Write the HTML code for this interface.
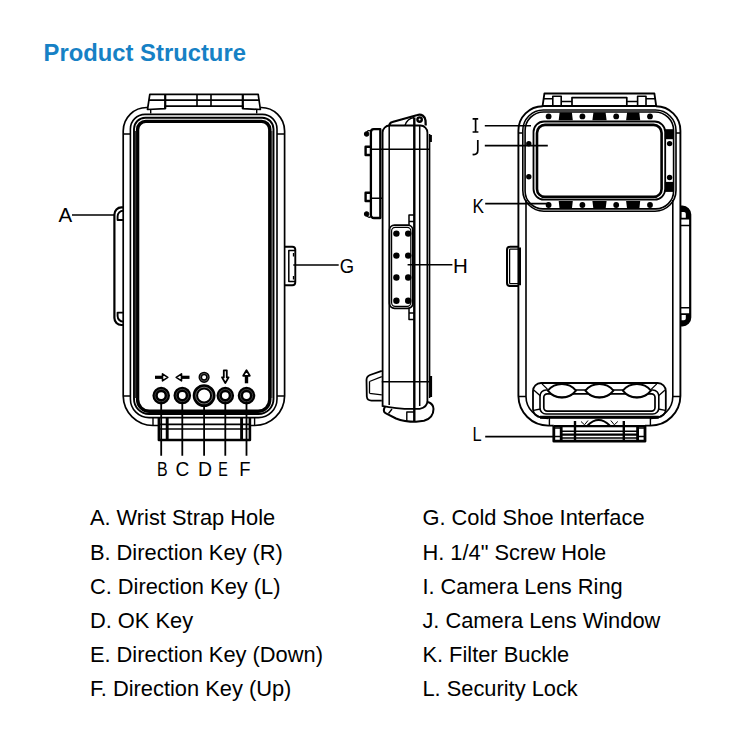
<!DOCTYPE html>
<html><head><meta charset="utf-8">
<style>
html,body{margin:0;padding:0;background:#fff;width:750px;height:750px;overflow:hidden}
svg{position:absolute;left:0;top:0;display:block}
</style></head>
<body>
<svg width="750" height="750" viewBox="0 0 750 750">
<rect width="750" height="750" fill="#fff"/>
<!-- Title -->
<text x="43.6" y="61" font-family="Liberation Sans" font-weight="bold" font-size="23.8" fill="#1681c5">Product Structure</text>

<!-- ===== LEFT DEVICE (front) ===== -->
<g fill="none" stroke="#000" stroke-linejoin="round">
  <!-- top clip -->
  <path d="M149.8,94.3 L258.2,94.3 L260.4,109.5 L242.8,108.7 L242.8,106.2 L165.2,106.2 L165.2,108.7 L147.5,109.5 Z" stroke-width="1.7"/>
  <path d="M149,100.1 H259.2 M197,94.3 V106.2 M211,94.3 V106.2" stroke-width="1.6"/>
  <path d="M165.2,94.3 V108.7 M242.8,94.3 V108.7" stroke-width="2.2"/>
  <path d="M150.7,109.5 V113.5 M256.7,109.5 V113.5" stroke-width="1.4"/>
  <!-- outer body frame -->
  <path d="M147.5,107.5 A23.5,23.5 0 0 0 123.2,131 L123.2,396 A30,30 0 0 0 153,425.5 L158,425.5 M250.8,425.5 L254.6,425.5 A30,30 0 0 0 284.6,396 L284.6,131 A23.5,23.5 0 0 0 260.4,107.5" stroke-width="1.7"/>
  <path d="M123.2,134 H130.8 M277,134 H284.6 M123.2,396 H130.8 M277,396 H284.6" stroke-width="1.5"/>
  <path d="M153,418 V425.7 M254.6,418 V425.7" stroke-width="1.4"/>
  <!-- band -->
  <path d="M130.4,129 A14.6,14.6 0 0 1 145,114.4 L262.4,114.4 A14.6,14.6 0 0 1 277,129 L277,399 A18.6,18.6 0 0 1 258.4,417.6 L149,417.6 A18.6,18.6 0 0 1 130.4,399 Z" stroke-width="1.6"/>
  <!-- thin -->
  <path d="M134,129 A11.3,11.3 0 0 1 145.3,117.7 L262.2,117.7 A11.3,11.3 0 0 1 273.5,129 L273.5,399 A15,15 0 0 1 258.5,414 L149,414 A15,15 0 0 1 134,399 Z" stroke-width="1.9"/>
  <!-- thick -->
  <path d="M137.6,129.6 A8.2,8.2 0 0 1 145.8,121.4 L261.6,121.4 A8.2,8.2 0 0 1 269.8,129.6 L269.8,399.6 A11.7,11.7 0 0 1 258.1,411.3 L149.3,411.3 A11.7,11.7 0 0 1 137.6,399.6 Z" stroke-width="3.4"/>
  <path d="M135.6,131 V398 M271.8,131 V398" stroke-width="1.3" stroke="#333"/>
  <!-- wrist strap A -->
  <path d="M123.2,207.4 L121.4,207.4 A7,7 0 0 0 114.4,214.4 L114.4,318 A7,7 0 0 0 121.4,325 L123.2,325" stroke-width="2.2"/>
  <path d="M123.2,210.8 A5.6,5.6 0 0 0 117.6,216.4 L117.6,220 L123.2,220" stroke-width="1.9"/>
  <path d="M123.2,321.6 A5.6,5.6 0 0 1 117.6,316 L117.6,312.6 L123.2,312.6" stroke-width="1.9"/>
  <!-- cold shoe G -->
  <path d="M284.6,246.7 L292.3,246.7 A3,3 0 0 1 295.3,249.7 L295.3,282.3 A3,3 0 0 1 292.3,285.3 L284.6,285.3" stroke-width="1.9"/>
  <path d="M295,250.5 L288.8,250.5 L288.8,281.5 L295,281.5" stroke-width="1.5"/>
  <path d="M293.5,253 V256.5 M293.5,276 V279.5" stroke-width="1.3"/>
  <!-- bottom clip -->
  <path d="M158.9,418 V440 H249.9 V418" stroke-width="2.6"/>
  <path d="M167.2,418 V440 M241.6,418 V440" stroke-width="2.9"/>
  <path d="M158.9,424.4 H249.9 M158.9,429 H249.9" stroke-width="1.6"/>
  <!-- buttons -->
  <g stroke-width="5.4">
    <circle cx="161.2" cy="395.6" r="6.1"/>
    <circle cx="182.3" cy="395.5" r="6.1"/>
    <circle cx="225.3" cy="395.6" r="6.1"/>
    <circle cx="246.5" cy="395.6" r="6.1"/>
    <circle cx="204.1" cy="395.6" r="8.7"/>
  </g>
  <g stroke="#fff" stroke-width="0.7" opacity="0.35">
    <circle cx="161.2" cy="395.6" r="6.2"/>
    <circle cx="182.3" cy="395.5" r="6.2"/>
    <circle cx="225.3" cy="395.6" r="6.2"/>
    <circle cx="246.5" cy="395.6" r="6.2"/>
  </g>
  <circle cx="204.1" cy="395.6" r="8.4" stroke="#fff" stroke-width="0.8" opacity="0.55"/>
  <!-- button lines -->
  <path d="M161.2,401.8 V455.8 M182.3,401.8 V455.8 M204.1,404.5 V455.8 M225.3,401.8 V455.8 M246.5,401.8 V455.8" stroke-width="1.8"/>
  <!-- icons -->
  <circle cx="204.1" cy="377.3" r="3.8" stroke-width="3.6"/>
  <circle cx="204.1" cy="377.3" r="3.9" stroke="#fff" stroke-width="0.6" opacity="0.5"/>
  <path d="M155,377.3 H162.5" stroke-width="3.2"/>
  <path d="M162.5,373.8 L167.8,377.3 L162.5,380.8 Z" stroke-width="1.6"/>
  <path d="M189.5,377.3 H181.5" stroke-width="3.2"/>
  <path d="M181.5,373.8 L176.2,377.3 L181.5,380.8 Z" stroke-width="1.6"/>
  <path d="M223.8,370.3 H226.8 V377.4 H228.6 L225.3,383 L222,377.4 H223.8 Z" stroke-width="1.8"/>
  <path d="M246.5,375.8 V383.3" stroke-width="3.4"/>
  <path d="M243.2,375.8 L246.5,370.2 L249.8,375.8 Z" stroke-width="1.8"/>
</g>
<g font-family="Liberation Sans" font-size="20.5" fill="#000">
  <text x="58.5" y="222.4">A</text>
  <text transform="translate(339.8,272.8) scale(0.9,1)">G</text>
</g>
<path d="M72,215 H114.4 M293.3,265 H338.7" stroke="#000" stroke-width="1.6"/>
<g font-family="Liberation Sans" font-size="20.5" fill="#000">
  <text transform="translate(157,476) scale(0.78,1)">B</text>
  <text transform="translate(175.6,476) scale(0.93,1)">C</text>
  <text transform="translate(198,476) scale(0.95,1)">D</text>
  <text transform="translate(218.2,476) scale(0.7,1)">E</text>
  <text transform="translate(239.3,476) scale(0.9,1)">F</text>
</g>

<!-- ===== SIDE VIEW ===== -->
<g fill="none" stroke="#000" stroke-linejoin="round">
  <!-- back plate -->
  <path d="M380.3,129.2 L373.8,129.2 A3,3 0 0 0 370.9,132.2 L370.9,215 A3,3 0 0 0 373.9,218 L380.3,218 Z" stroke-width="2.3"/>
  <path d="M370.7,149.3 H430 M370.7,198.3 H382" stroke-width="1.5"/>
  <!-- knobs -->
  <circle cx="366.6" cy="134" r="2.3" fill="#000" stroke-width="1"/>
  <path d="M367,132 A2.5,2.5 0 0 1 370.7,131" stroke-width="1.3"/>
  <circle cx="366.6" cy="214" r="2.3" fill="#000" stroke-width="1"/>
  <path d="M367,215.8 A2.5,2.5 0 0 0 370.7,216.8" stroke-width="1.3"/>
  <path d="M370.9,146.8 H365.6 V155 H370.9" stroke-width="2.4"/>
  <path d="M370.9,192.8 H365.6 V201 H370.9" stroke-width="2.4"/>
  <!-- body -->
  <path d="M382.6,405.8 L382.6,132.5 A7,7 0 0 1 389.6,125.5 L420.4,125.5 A7,7 0 0 1 427.4,132.5 L427.4,400" stroke-width="1.8"/>
  <path d="M389.2,125.5 V405 M419.7,125.5 V406" stroke-width="1.5"/>
  <path d="M414.3,117.5 V421" stroke-width="2.4"/>
  <path d="M429.6,134 V398" stroke-width="1.5"/>
  <path d="M430.8,135 V142 M431,376 V397" stroke-width="2.2"/>
  <!-- top clip -->
  <path d="M389.3,125.4 Q389.8,122.6 392.4,122 L417.5,115 A6,6 0 0 1 425.5,120.5 L425.7,125.5" stroke-width="2.3"/>
  <circle cx="419.6" cy="119.6" r="2.2" stroke-width="2.4"/>
  <path d="M405,125.5 Q407,118.5 414.3,117.5" stroke-width="1.4"/>
  <!-- screw plate -->
  <rect x="389.5" y="225.2" width="23.3" height="83.1" rx="5" stroke-width="1.8"/>
  <rect x="391.6" y="227.3" width="19.2" height="79" rx="3.6" stroke-width="1.2"/>
  <g fill="#000" stroke="none">
    <circle cx="396.4" cy="233.6" r="3.2"/><circle cx="408.2" cy="233.6" r="3.2"/>
    <circle cx="396.4" cy="255.6" r="3.2"/><circle cx="408.2" cy="255.6" r="3.2"/>
    <circle cx="396.4" cy="277.5" r="3.2"/><circle cx="408.2" cy="277.5" r="3.2"/>
    <circle cx="396.4" cy="300.8" r="3.2"/><circle cx="408.2" cy="300.8" r="3.2"/>
  </g>
  <path d="M414.3,215 H409 V221.5 H414.3 M409,221.5 V225.2 M414.3,319.5 H409 V313 H414.3 M409,313 V308.3" stroke-width="1.5"/>
  <!-- bottom -->
  <path d="M381.8,381.8 H430" stroke-width="1.5"/>
  <path d="M381.8,370.8 L370,375 Q366.5,376.5 366.5,380 L366.8,396.5 Q367.2,400.6 371.5,400.6 L381.8,400.6" stroke-width="1.8"/>
  <path d="M369.5,381.5 L381.8,376.6 M369.5,393.3 L381.8,394.8 M369.5,381.5 V393.3" stroke-width="1.3"/>
  <path d="M381.8,405.8 Q398,409.5 419.7,408.8 Q427.5,407.5 427.5,400" stroke-width="1.8"/>
  <path d="M385,406.5 Q382.5,411.5 385.5,413.2 L396,418.5 Q404,421.8 416,421.8 L424,420.8 Q433.5,418 433.5,409 Q433.5,404 428,402" stroke-width="2"/>
  <path d="M392,409 L388.5,413.5 M406.8,421 V412 H414.3" stroke-width="1.4"/>
  <path d="M407.6,264.8 H452.4" stroke-width="1.6"/>
</g>
<text x="453" y="272.8" font-family="Liberation Sans" font-size="20.5" fill="#000">H</text>

<!-- ===== BACK VIEW ===== -->
<g fill="none" stroke="#000" stroke-linejoin="round">
  <!-- top clip -->
  <path d="M544.4,93.5 L654.4,93.5 L656.2,106 L542.6,106 Z" stroke-width="1.8"/>
  <path d="M544,98.8 H552.8 M646,98.8 H655" stroke-width="1.5"/>
  <path d="M552.8,105.6 V96.2 H561.2 V105.6 M646,105.6 V96.2 H637.6 V105.6" stroke-width="1.6"/>
  <path d="M561.2,101.5 H572 M637.6,101.5 H626.8" stroke-width="1.6"/>
  <rect x="572" y="97.6" width="54.8" height="8.4" stroke-width="1.7"/>
  <!-- outer body -->
  <path d="M542.8,106.3 A24.4,24.4 0 0 0 518.4,130.7 L518.4,396 A30,30 0 0 0 548.4,425.6 L553.8,425.6 M645,425.6 L650.4,425.6 A30,30 0 0 0 680.4,396 L680.4,130.7 A24.4,24.4 0 0 0 656,106.3" stroke-width="1.9"/>
  <path d="M518.4,396.4 H526 M672.8,396.4 H680.4 M518.4,133 H522.8 M676,133 H680.4" stroke-width="1.5"/>
  <path d="M549.4,418 V426 M650.4,418 V426" stroke-width="1.4"/>
  <!-- ring -->
  <path d="M522.8,130.5 A20.5,20.5 0 0 1 543.3,110 L655.5,110 A20.5,20.5 0 0 1 676,130.5 L676,190.2 A21,21 0 0 1 655,211.2 L543.8,211.2 A21,21 0 0 1 522.8,190.2 Z" stroke-width="1.6"/>
  <path d="M525.1,130.5 A18.5,18.5 0 0 1 543.6,112 L655.1,112 A18.5,18.5 0 0 1 673.6,130.5 L673.6,191 A17.9,17.9 0 0 1 655.7,208.9 L543,208.9 A17.9,17.9 0 0 1 525.1,191 Z" stroke-width="1.6"/>
  <path d="M526,200 V396.4 A22,22 0 0 0 548,418.4 M672.8,200 V396.4 A22,22 0 0 1 650.8,418.4" stroke-width="1.6"/>
  <!-- window -->
  <rect x="533.5" y="121.5" width="131.7" height="78.1" rx="10.5" stroke-width="1.8"/>
  <rect x="537" y="124.9" width="124.6" height="72" rx="8" stroke-width="2.6"/>
  <!-- dots & pads -->
  <g fill="#000" stroke="none">
    <circle cx="548.6" cy="116.4" r="2.9"/><circle cx="582.4" cy="116.4" r="2.9"/><circle cx="616.2" cy="116.4" r="2.9"/><circle cx="650" cy="116.4" r="2.9"/>
    <circle cx="548.6" cy="205" r="2.9"/><circle cx="582.4" cy="205" r="2.9"/><circle cx="616.2" cy="205" r="2.9"/><circle cx="650" cy="205" r="2.9"/>
    <circle cx="528.8" cy="143.7" r="2.7"/><circle cx="528.8" cy="176.8" r="2.7"/>
    <circle cx="669.6" cy="143.6" r="2.7"/><circle cx="669.6" cy="177.5" r="2.7"/>
    <path d="M559.6,112.5 H571.9 L572.8,120.3 H558.7 Z M593.4,112.5 H605.6 L606.6,120.3 H592.4 Z M627.1,112.5 H639.3 L640.2,120.3 H626.1 Z"/>
    <path d="M558.7,201 H572.8 L571.9,208.9 H559.6 Z M592.4,201 H606.6 L605.6,208.9 H593.4 Z M626.1,201 H640.2 L639.3,208.9 H627.1 Z"/>
    <rect x="664.8" y="129.2" width="8.8" height="10"/><rect x="664.8" y="181.9" width="8.8" height="10"/>
  </g>
  <!-- right strap -->
  <path d="M680.2,206.6 L682.4,206.6 A7.9,7.9 0 0 1 690.2,214.5 L690.2,317.5 A7.9,7.9 0 0 1 682.4,325.4 L680.2,325.4" stroke-width="2.2"/>
  <path d="M680.2,206.6 H682.4 A7.9,7.9 0 0 1 690.2,214.5 V219.4 H680.2 Z M680.2,325.4 H682.4 A7.9,7.9 0 0 0 690.2,317.5 V313.3 H680.2 Z" fill="#000" stroke="none"/>
  <path d="M681.6,212 H684 A1.8,1.8 0 0 1 685.8,213.8 V217.8 H681.6 Z M681.6,320.2 H684 A1.8,1.8 0 0 0 685.8,318.4 V315 H681.6 Z" fill="#fff" stroke="none"/>
  <path d="M680.2,225.4 H690.2 M680.2,307.8 H690.2" stroke-width="1.5"/>
  <!-- left cold shoe -->
  <path d="M518.4,246.8 L510,246.8 A3,3 0 0 0 507,249.8 L507,283 A3,3 0 0 0 510,286 L518.4,286 M520,247.5 V285.3" stroke-width="2"/>
  <path d="M509.5,249.2 H520 M509.5,283.6 H520 M509.6,249.2 V283.6" stroke-width="1.3"/>
  <!-- bottom bracket -->
  <rect x="533" y="383" width="132.8" height="34.3" rx="8" stroke-width="1.8"/>
  <rect x="540" y="390" width="118.8" height="24" rx="6" stroke-width="1.6"/>
  <rect x="543.8" y="393.8" width="111.2" height="17.3" rx="3.5" stroke-width="1.7"/>
  <path d="M534,390.3 L540.5,396 M533.5,410.3 L540.5,409 M664.8,390.3 L658.3,396 M665.3,410.3 L658.3,409 M542,383.9 L547.4,389.1 M656.8,383.9 L651.4,389.1" stroke-width="1.3"/>
  <path d="M540,417.3 H658.8" stroke-width="3"/>
  <!-- eyes -->
  <g stroke-width="1.9" fill="#fff">
    <path d="M547.8,390.6 A18.3,18.3 0 0 1 576,390.6 A18.3,18.3 0 0 1 547.8,390.6 Z"/>
    <path d="M585.3,390.6 A18.3,18.3 0 0 1 613.5,390.6 A18.3,18.3 0 0 1 585.3,390.6 Z"/>
    <path d="M622.8,390.6 A18.3,18.3 0 0 1 651,390.6 A18.3,18.3 0 0 1 622.8,390.6 Z"/>
  </g>
  <g stroke-width="1.1">
    <path d="M549.4,393 A18.3,18.3 0 0 0 574.4,393"/>
    <path d="M586.9,393 A18.3,18.3 0 0 0 611.9,393"/>
    <path d="M624.4,393 A18.3,18.3 0 0 0 649.4,393"/>
  </g>
  <!-- bottom clip -->
  <path d="M587.5,425.5 Q598.5,414.5 609.8,425.5" stroke-width="1.8"/>
  <path d="M581,421.5 L584.5,424.8 L588,420.5 M617.8,421.5 L614.3,424.8 L610.8,420.5" stroke-width="1"/>
  <path d="M553.8,426 V441.2 H645 V426" stroke-width="2.8"/>
  <path d="M561.2,426 V441.2 M637.6,426 V441.2" stroke-width="2.8"/>
  <path d="M575,421 V441.2 M623.8,421 V441.2" stroke-width="2.4"/>
  <path d="M553.8,426.2 H645 M561.2,434.6 H637.6" stroke-width="2.3"/>
  <path d="M561.2,431.2 H637.6 M561.2,438 H637.6 M553.8,428 H561.2 M553.8,436.6 H561.2 M637.6,428 H645 M637.6,436.6 H645" stroke-width="1.5"/>
  <!-- label lines -->
  <path d="M484.8,125.8 H531 M484.8,145.6 H547.8 M485.2,203.6 H549 M485.2,436.6 H553" stroke-width="1.6"/>
</g>
<g font-family="Liberation Sans" font-size="20.5" fill="#000">
  <text transform="translate(472.6,441) scale(0.8,1)">L</text>
  <text transform="translate(472.5,212.8) scale(0.84,1)">K</text>
</g>
<!-- I with serifs -->
<path d="M475.6,118.3 V132.5 M472.6,118.8 H478.2 M472.6,132 H478.4" stroke="#000" stroke-width="1.7" fill="none"/>
<!-- J -->
<path d="M477.8,140 V150.3 Q477.8,154.6 473.8,154.6 L472.6,154.4" stroke="#000" stroke-width="1.7" fill="none"/>

<!-- ===== LIST ===== -->
<g font-family="Liberation Sans" font-size="21.85" fill="#000">
  <text x="89.9" y="525.4">A. Wrist Strap Hole</text>
  <text x="89.9" y="559.5">B. Direction Key (R)</text>
  <text x="89.9" y="593.6">C. Direction Key (L)</text>
  <text x="89.9" y="627.6">D. OK Key</text>
  <text x="89.9" y="661.7">E. Direction Key (Down)</text>
  <text x="89.9" y="695.9">F. Direction Key (Up)</text>
  <text x="422.4" y="525.4">G. Cold Shoe Interface</text>
  <text x="422.4" y="559.5">H. 1/4" Screw Hole</text>
  <text x="422.4" y="593.6">I. Camera Lens Ring</text>
  <text x="422.4" y="627.6">J. Camera Lens Window</text>
  <text x="422.4" y="661.7">K. Filter Buckle</text>
  <text x="422.4" y="695.9">L. Security Lock</text>
</g>
</svg>
</body></html>
